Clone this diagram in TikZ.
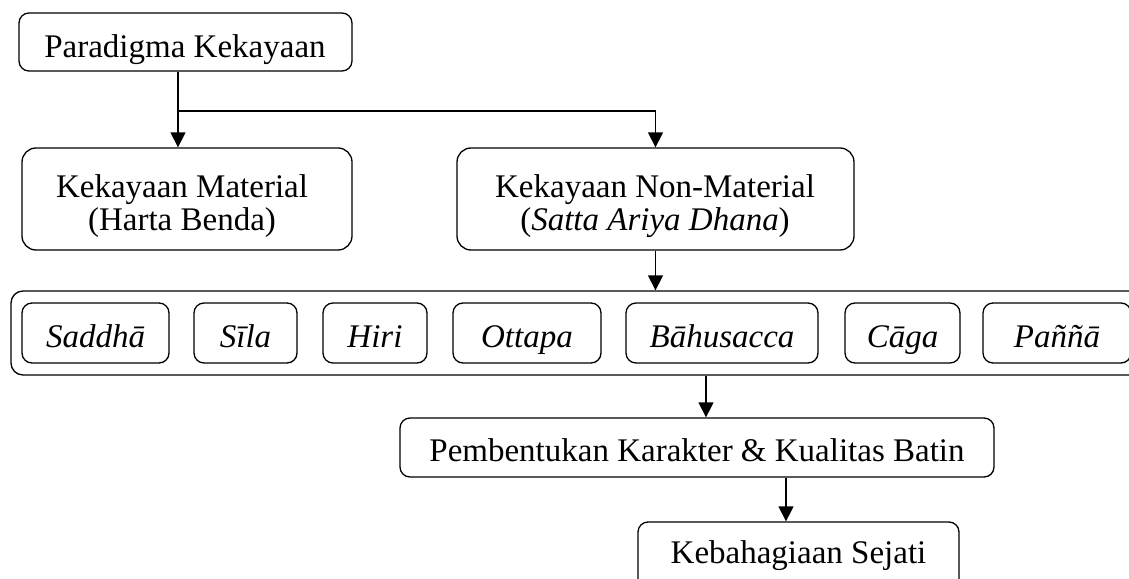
\documentclass[tikz,border=0pt]{standalone}
\usepackage{fontspec}
\setmainfont{Liberation Serif}
\usetikzlibrary{arrows.meta}
\begin{document}
\begin{tikzpicture}[x=1pt,y=-1pt,
  box/.style={draw, line width=1.3pt, rounded corners=10pt, inner sep=0pt},
  bigbox/.style={box, rounded corners=14pt},
  txt/.style={anchor=base, inner sep=0pt, font=\fontsize{33}{38}\selectfont},
  itx/.style={anchor=base, inner sep=0pt, font=\fontsize{33}{38}\selectfont\itshape},
  arr/.style={line width=1.3pt, -{Triangle[length=15pt,width=15pt]}}]
\path[use as bounding box] (0,0) rectangle (1129,578);
\clip (0,0) rectangle (1129,578);
% boxes
\node[box, minimum width=333pt, minimum height=58pt] (para) at (185.5,42) {};
\node[bigbox, minimum width=330pt, minimum height=102pt] (mat) at (187,199) {};
\node[bigbox, minimum width=397pt, minimum height=102pt] (nonmat) at (655.5,199) {};
\node[box, rounded corners=12pt, minimum width=1150pt, minimum height=84pt] (outer) at (586,333) {};
\node[box, minimum width=147pt, minimum height=60pt] (saddha) at (95.5,333) {};
\node[box, minimum width=103pt, minimum height=60pt] (sila) at (245.5,333) {};
\node[box, minimum width=104pt, minimum height=60pt] (hiri) at (375,333) {};
\node[box, minimum width=148pt, minimum height=60pt] (ottapa) at (527,333) {};
\node[box, minimum width=192pt, minimum height=60pt] (bahu) at (722,333) {};
\node[box, minimum width=115pt, minimum height=60pt] (caga) at (902.5,333) {};
\node[box, minimum width=148pt, minimum height=60pt] (panna) at (1057,333) {};
\node[box, minimum width=594pt, minimum height=59pt] (pemb) at (697,447.5) {};
\node[box, minimum width=321pt, minimum height=68pt] (keba) at (798.5,556) {};
% texts
\node[txt] (paraT) at (185,57) {Paradigma Kekayaan};
\node[txt] (matT1) at (182,197) {Kekayaan Material};
\node[txt] (matT2) at (182,230) {(Harta Benda)};
\node[txt] (nonT1) at (655,197) {Kekayaan Non-Material};
\node[txt] (nonT2) at (655,230) {(\textit{Satta Ariya Dhana})};
\node[itx] (saddhaT) at (95.5,347) {Saddhā};
\node[itx] (silaT) at (245.5,347) {Sīla};
\node[itx] (hiriT) at (375,347) {Hiri};
\node[itx] (ottapaT) at (527,347) {Ottapa};
\node[itx] (bahuT) at (722,347) {Bāhusacca};
\node[itx] (cagaT) at (902.5,347) {Cāga};
\node[itx] (pannaT) at (1057,347) {Paññā};
\node[txt] (pembT) at (697,461) {Pembentukan Karakter \& Kualitas Batin};
\node[txt] (kebaT) at (798.5,563) {Kebahagiaan Sejati};
% connectors
\coordinate (j) at (178,111);
\coordinate (c2) at (706,0);
\coordinate (c3) at (786,0);
\draw[arr] (para.south -| j) -- (j |- mat.north);
\draw[arr] (j) -| (nonmat.north);
\draw[arr] (nonmat.south) -- (nonmat.south |- outer.north);
\draw[arr] (outer.south -| c2) -- (pemb.north -| c2);
\draw[arr] (pemb.south -| c3) -- (keba.north -| c3);
\end{tikzpicture}
\end{document}
